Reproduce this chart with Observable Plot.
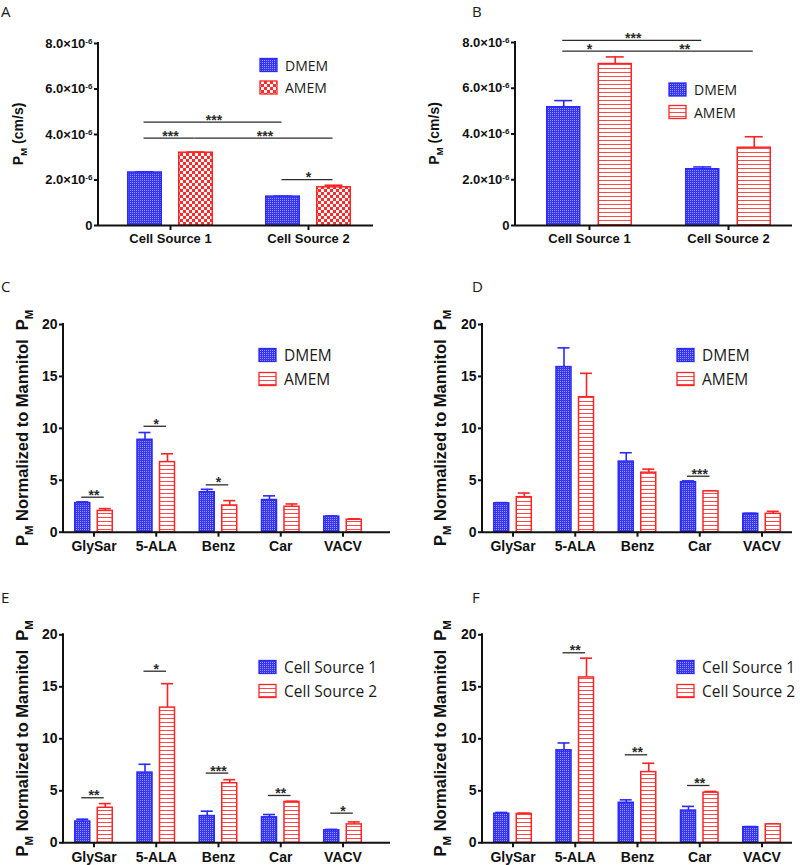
<!DOCTYPE html>
<html>
<head>
<meta charset="utf-8">
<script src="https://cdn.jsdelivr.net/npm/d3@7"></script>
<script src="https://cdn.jsdelivr.net/npm/@observablehq/plot@0.6"></script>
<style>
  html, body { margin: 0; padding: 0; background: #fff; }
  #root { position: relative; width: 800px; height: 865px; overflow: hidden; background: #fff; }
  .panel { position: absolute; }
  #overlay { position: absolute; left: 0; top: 0; pointer-events: none; }
</style>
</head>
<body>
<div id="root"></div>
<script>
// ---------------- data ----------------
const sourceCats = ["Cell Source 1", "Cell Source 2"];
const compoundCats = ["GlySar", "5-ALA", "Benz", "Car", "VACV"];
const mediaNames = ["DMEM", "AMEM"];
const sourceNames = ["Cell Source 1", "Cell Source 2"];
const permTicks = [0, 2e-6, 4e-6, 6e-6, 8e-6];
const normTicks = [0, 5, 10, 15, 20];

// Panel A  (P_M, cm/s)
const aDMEM = [2.33e-6, 1.27e-6];
const aDMEMErr = [0.03e-6, 0.02e-6];
const aAMEM = [3.20e-6, 1.68e-6];
const aAMEMErr = [0.03e-6, 0.09e-6];
// Panel B  (P_M, cm/s)
const bDMEM = [5.17e-6, 2.46e-6];
const bDMEMErr = [0.29e-6, 0.10e-6];
const bAMEM = [7.06e-6, 3.40e-6];
const bAMEMErr = [0.31e-6, 0.48e-6];

// Normalized P_M (to mannitol)
const src1DMEM = [2.80, 8.90, 3.85, 3.10, 1.50];
const src1DMEMErr = [0.12, 0.70, 0.28, 0.40, 0.06];
const src1AMEM = [2.05, 6.75, 2.57, 2.45, 1.20];
const src1AMEMErr = [0.22, 0.80, 0.47, 0.27, 0.09];
const src2DMEM = [2.78, 15.90, 6.80, 4.82, 1.77];
const src2DMEMErr = [0.07, 1.85, 0.85, 0.12, 0.05];
const src2AMEM = [3.37, 13.00, 5.73, 3.93, 1.77];
const src2AMEMErr = [0.40, 2.30, 0.34, 0.06, 0.24];

// significance annotations: series 0 = first (blue), 1 = second (red)
const aSig = [
  {from: "Cell Source 1", fs: 0, to: "Cell Source 2", ts: 0, level: 4.54e-6, stars: "***"},
  {from: "Cell Source 1", fs: 0, to: "Cell Source 1", ts: 1, level: 3.84e-6, stars: "***"},
  {from: "Cell Source 1", fs: 1, to: "Cell Source 2", ts: 1, level: 3.84e-6, stars: "***"},
  {from: "Cell Source 2", fs: 0, to: "Cell Source 2", ts: 1, level: 2.02e-6, stars: "*"}
];
const bSig = [
  {from: "Cell Source 1", fs: 0, to: "Cell Source 2", ts: 0, level: 8.09e-6, stars: "***"},
  {from: "Cell Source 1", fs: 0, to: "Cell Source 1", ts: 1, level: 7.62e-6, stars: "*"},
  {from: "Cell Source 1", fs: 1, to: "Cell Source 2", ts: 1, level: 7.62e-6, stars: "**"}
];
const cSig = [
  {from: "GlySar", fs: 0, to: "GlySar", ts: 1, level: 3.37, stars: "**"},
  {from: "5-ALA", fs: 0, to: "5-ALA", ts: 1, level: 10.2, stars: "*"},
  {from: "Benz", fs: 0, to: "Benz", ts: 1, level: 4.56, stars: "*"}
];
const dSig = [
  {from: "Car", fs: 0, to: "Car", ts: 1, level: 5.39, stars: "***"}
];
const eSig = [
  {from: "GlySar", fs: 0, to: "GlySar", ts: 1, level: 4.33, stars: "**"},
  {from: "5-ALA", fs: 0, to: "5-ALA", ts: 1, level: 16.5, stars: "*"},
  {from: "Benz", fs: 0, to: "Benz", ts: 1, level: 6.7, stars: "***"},
  {from: "Car", fs: 0, to: "Car", ts: 1, level: 4.55, stars: "**"},
  {from: "VACV", fs: 0, to: "VACV", ts: 1, level: 2.85, stars: "*"}
];
const fSig = [
  {from: "5-ALA", fs: 0, to: "5-ALA", ts: 1, level: 18.27, stars: "**"},
  {from: "Benz", fs: 0, to: "Benz", ts: 1, level: 8.46, stars: "**"},
  {from: "Car", fs: 0, to: "Car", ts: 1, level: 5.51, stars: "**"}
];

// ---------------- styles ----------------
const BLUE = "#2a2aff";
const RED = "#ff2424";
const FONT = "'Liberation Sans', Arial, Helvetica, sans-serif";
const root = document.getElementById("root");

// overlay with pattern definitions, panel letters and legends
const overlay = d3.create("svg").attr("id", "overlay").attr("width", 800).attr("height", 865);
const defs = overlay.append("defs");
{
  const p = defs.append("pattern").attr("id", "pDots").attr("patternUnits", "userSpaceOnUse").attr("width", 2).attr("height", 2);
  p.append("rect").attr("width", 2).attr("height", 2).attr("fill", "#3434f2");
  p.append("rect").attr("width", 1).attr("height", 1).attr("fill", "#9a9aff");
}
{
  const p = defs.append("pattern").attr("id", "pCheck").attr("patternUnits", "userSpaceOnUse").attr("width", 6).attr("height", 6);
  p.append("rect").attr("width", 6).attr("height", 6).attr("fill", "#ff2a2a");
  p.append("rect").attr("width", 3).attr("height", 3).attr("fill", "#ffffff");
  p.append("rect").attr("x", 3).attr("y", 3).attr("width", 3).attr("height", 3).attr("fill", "#ffffff");
}
{
  const p = defs.append("pattern").attr("id", "pStripe").attr("patternUnits", "userSpaceOnUse").attr("width", 4).attr("height", 4);
  p.append("rect").attr("width", 4).attr("height", 4).attr("fill", "#ffffff");
  p.append("rect").attr("width", 4).attr("height", 1).attr("fill", "#ff4a4a");
}

function panel(cfg) {
  const {cats, s0, e0, s1, e1, sig, yDomain, yTicks, yFmt, left, top, width, height,
         mL, mR, mT, mB, range, barW, gap, capW, pats, yParts, yLabelX, tickFs, labelFs, tickPad} = cfg;
  const n = cats.length;
  const bw = 2 * barW + gap;
  const L = range[1] - range[0];
  const pInner = (L - bw * n) / (L - bw);
  const step = L / (n - pInner);
  const bc = s => s === 0 ? barW / 2 : barW + gap + barW / 2;
  const idx = d3.range(n);
  const series = [[s0, e0, BLUE, pats[0]], [s1, e1, RED, pats[1]]];
  const marks = [];
  series.forEach(([vals, errs, col, pat], s) => {
    marks.push(Plot.ruleX(idx, {x: i => cats[i], y1: i => vals[i], y2: i => vals[i] + errs[i],
      dx: bc(s) - bw / 2, stroke: col, strokeWidth: 1.6}));
    marks.push(Plot.tickY(idx, {x: i => cats[i], y: i => vals[i] + errs[i],
      insetLeft: bc(s) - capW / 2, insetRight: bw - bc(s) - capW / 2, stroke: col, strokeWidth: 1.6}));
    marks.push(Plot.barY(idx, {x: i => cats[i], y: i => vals[i], fill: `url(#${pat})`, stroke: col, strokeWidth: 1.5,
      insetLeft: s === 0 ? 0.75 : barW + gap + 0.75, insetRight: s === 0 ? barW + gap + 0.75 : 0.75}));
  });
  for (const a of sig) {
    const i1 = cats.indexOf(a.from), i2 = cats.indexOf(a.to);
    marks.push(Plot.ruleY([a], {x1: d => d.from, x2: d => d.to, y: d => d.level,
      insetLeft: bc(a.fs) - 1, insetRight: bw - bc(a.ts) + 1, stroke: "#2b2b2b", strokeWidth: 1.3}));
    const mid = (step * (i2 - i1) + bc(a.fs) + bc(a.ts)) / 2;
    marks.push(Plot.text([a], {x: d => d.from, y: d => d.level, text: d => d.stars, dx: mid - bw / 2, dy: -2,
      fontSize: 14, fontWeight: "bold", fill: "#2b2b2b", style: "letter-spacing:2px"}));
  }
  marks.push(Plot.ruleY([0], {stroke: "#111", strokeWidth: 2}));
  marks.push(Plot.axisY({ticks: yTicks, tickFormat: yFmt, tickSize: 4, tickPadding: 2, strokeWidth: 2,
    fontSize: tickFs, fontWeight: "bold", label: null, stroke: "#111"}));
  marks.push(Plot.axisX({tickSize: 5, tickPadding: tickPad, strokeWidth: 2, fontSize: tickFs, fontWeight: "bold",
    label: null, stroke: "#111"}));

  const svg = Plot.plot({
    width, height, marginLeft: mL, marginRight: mR, marginTop: mT, marginBottom: mB,
    x: {type: "band", domain: cats, range, paddingInner: pInner, paddingOuter: 0, round: false},
    y: {domain: yDomain},
    style: {fontFamily: FONT, background: "transparent", overflow: "visible", color: "#111"},
    marks
  });
  // y axis line
  d3.select(svg).append("line").attr("x1", mL).attr("x2", mL).attr("y1", mT - 1).attr("y2", height - mB + 1)
    .attr("stroke", "#111").attr("stroke-width", 2);
  // superscript exponents on tick labels
  d3.select(svg).selectAll('g[aria-label="y-axis tick label"] text').each(function () {
    const parts = this.textContent.split("|");
    if (parts.length === 2) {
      this.textContent = parts[0];
      d3.select(this).append("tspan").attr("dy", "-0.5em").attr("font-size", "0.62em").text(parts[1]);
    }
  });
  // y axis title with subscripts
  const t = d3.select(svg).append("text")
    .attr("transform", `translate(${yLabelX},${(mT + height - mB) / 2}) rotate(-90)`)
    .attr("text-anchor", "middle").attr("font-family", FONT).attr("font-weight", "bold")
    .attr("font-size", labelFs).attr("fill", "#111").style("white-space", "pre");
  let shifted = false;
  const sh = labelFs * 0.28;
  for (const [s, sub] of yParts) {
    const ts = t.append("tspan").text(s);
    if (sub) { ts.attr("font-size", labelFs * 0.7); if (!shifted) { ts.attr("dy", sh); shifted = true; } }
    else if (shifted) { ts.attr("dy", -sh); shifted = false; }
  }
  const div = document.createElement("div");
  div.className = "panel";
  div.style.left = left + "px";
  div.style.top = top + "px";
  div.appendChild(svg);
  root.appendChild(div);
}

const permFmt = d => d === 0 ? "0" : (d * 1e6).toFixed(1) + "×10|-6";
const permLabel = [["P"], ["M", true], [" (cm/s)"]];
const normLabel = [["P"], ["M", true], [" Normalized to Mannitol  P"], ["M", true]];
const rowAB = {yDomain: [0, 8e-6], yTicks: permTicks, yFmt: permFmt, width: 400, height: 255, barW: 35, gap: 16,
  capW: 18, yParts: permLabel, tickFs: 13, labelFs: 14, tickPad: 3, cats: sourceCats};
const rowN = {yDomain: [0, 20], yTicks: normTicks, yFmt: d => String(d), width: 400, height: 275, barW: 16.5, gap: 6,
  capW: 12, yParts: normLabel, tickFs: 14, labelFs: 16.5, tickPad: 4, cats: compoundCats};

panel({...rowAB, s0: aDMEM, e0: aDMEMErr, s1: aAMEM, e1: aAMEMErr, sig: aSig, pats: ["pDots", "pCheck"],
  left: 0, top: 0, mL: 98, mR: 27, mT: 43, mB: 30, range: [127, 351], yLabelX: 23});
panel({...rowAB, s0: bDMEM, e0: bDMEMErr, s1: bAMEM, e1: bAMEMErr, sig: bSig, pats: ["pDots", "pStripe"],
  left: 400, top: 0, mL: 115, mR: 8, mT: 42, mB: 30, range: [146, 371], barW: 34.5, gap: 17, yLabelX: 39});
panel({...rowN, s0: src1DMEM, e0: src1DMEMErr, s1: src1AMEM, e1: src1AMEMErr, sig: cSig, pats: ["pDots", "pStripe"],
  left: 0, top: 285, mL: 63, mR: 10, mT: 39, mB: 28.3, range: [74, 362], yLabelX: 28});
panel({...rowN, s0: src2DMEM, e0: src2DMEMErr, s1: src2AMEM, e1: src2AMEMErr, sig: dSig, pats: ["pDots", "pStripe"],
  left: 400, top: 285, mL: 82, mR: 8, mT: 39, mB: 28.3, range: [93, 381], yLabelX: 46});
panel({...rowN, s0: src1AMEM, e0: src1AMEMErr, s1: src2AMEM, e1: src2AMEMErr, sig: eSig, pats: ["pDots", "pStripe"],
  left: 0, top: 590, mL: 63, mR: 10, mT: 44.3, mB: 22.7, range: [74, 362], yLabelX: 28});
panel({...rowN, s0: src1DMEM, e0: src1DMEMErr, s1: src2DMEM, e1: src2DMEMErr, sig: fSig, pats: ["pDots", "pStripe"],
  left: 400, top: 590, mL: 82, mR: 8, mT: 44.3, mB: 22.7, range: [93, 381], yLabelX: 46});

// panel letters
const letters = [["A", 1, 17], ["B", 472, 17], ["C", 1, 292], ["D", 472, 292], ["E", 1, 603], ["F", 472, 603]];
for (const [l, x, y] of letters) {
  overlay.append("text").attr("x", x).attr("y", y).attr("font-family", "'Open Sans', sans-serif")
    .attr("font-size", 15).attr("fill", "#1a1a1a").text(l);
}
// legends
function legend(x, y0, dy, names, pats, fs) {
  names.forEach((nm, k) => {
    const cy = y0 + k * dy;
    const col = k === 0 ? BLUE : RED;
    overlay.append("rect").attr("x", x).attr("y", cy - 6.5).attr("width", 17).attr("height", 13)
      .attr("fill", `url(#${pats[k]})`).attr("stroke", col).attr("stroke-width", 1.3);
    overlay.append("text").attr("x", x + 25).attr("y", cy).attr("dominant-baseline", "central")
      .attr("font-family", "'Open Sans', sans-serif").attr("font-size", fs).attr("fill", "#1a1a1a").text(nm);
  });
}
legend(260, 65, 22.5, mediaNames, ["pDots", "pCheck"], 14);
legend(669, 89.5, 22.5, mediaNames, ["pDots", "pStripe"], 14);
legend(259, 355, 24, mediaNames, ["pDots", "pStripe"], 15.5);
legend(677, 355, 24, mediaNames, ["pDots", "pStripe"], 15.5);
legend(259, 667, 24, sourceNames, ["pDots", "pStripe"], 15.5);
legend(677, 667, 24, sourceNames, ["pDots", "pStripe"], 15.5);
root.appendChild(overlay.node());
</script>
</body>
</html>
